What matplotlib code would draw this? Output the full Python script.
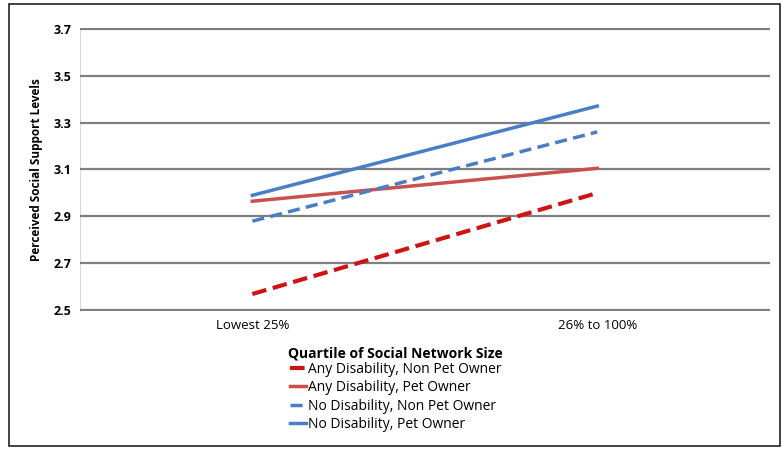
import matplotlib.pyplot as plt
from matplotlib.patches import Rectangle

plt.rcParams['font.family'] = ['Open Sans', 'DejaVu Sans']

categories = ['Lowest 25%', '26% to 100%']
any_dis_nonpet = [2.57, 3.00]
any_dis_pet = [2.965, 3.105]
no_dis_nonpet = [2.88, 3.26]
no_dis_pet = [2.99, 3.37]
yticks = [2.5, 2.7, 2.9, 3.1, 3.3, 3.5, 3.7]

fig = plt.figure(figsize=(7.83, 4.49), dpi=100)
fig.patches.append(Rectangle((0.011, 0.006), 0.985, 0.985, transform=fig.transFigure,
                             fill=False, edgecolor='#222222', linewidth=1.2))
ax = fig.add_axes([0.102, 0.307, 0.881, 0.631])

x = [0, 1]
ax.plot(x, any_dis_nonpet, color='#CC1414', lw=3, dashes=(3.5, 1.6), label='Any Disability, Non Pet Owner')
ax.plot(x, any_dis_pet, color='#C8504D', lw=2.5, label='Any Disability, Pet Owner')
ax.plot(x, no_dis_nonpet, color='#4A7EC4', lw=2.5, dashes=(3.5, 1.8), label='No Disability, Non Pet Owner')
ax.plot(x, no_dis_pet, color='#4A7EC4', lw=2.5, label='No Disability, Pet Owner')

ax.set_xlim(-0.5, 1.5)
ax.set_ylim(2.497, 3.703)
ax.set_yticks(yticks)
ax.set_yticklabels([f'{v:.1f}' for v in yticks], fontweight='bold', fontsize=9)
ax.set_xticks(x)
ax.set_xticklabels(categories, fontsize=9.5)
ax.tick_params(length=0, pad=6)
ax.grid(axis='y', color='#7f7f7f', lw=1.6)
ax.set_axisbelow(True)
for s in ['top', 'right', 'bottom']:
    ax.spines[s].set_visible(False)
ax.spines['left'].set_color('#d9d9d9')
ax.spines['left'].set_zorder(0)
ax.set_ylabel('Perceived Social Support Levels', fontweight='bold', fontsize=8.5, labelpad=8)

leg = ax.legend(loc='upper center', bbox_to_anchor=(0.458, -0.1), frameon=False,
                title='Quartile of Social Network Size', fontsize=10,
                handlelength=1.2, handletextpad=0.15, labelspacing=0.25, borderpad=0)
leg.get_title().set_fontweight('bold')
leg.get_title().set_fontsize(10)
leg._legend_box.sep = 1

fig.savefig('out.png', dpi=100)
